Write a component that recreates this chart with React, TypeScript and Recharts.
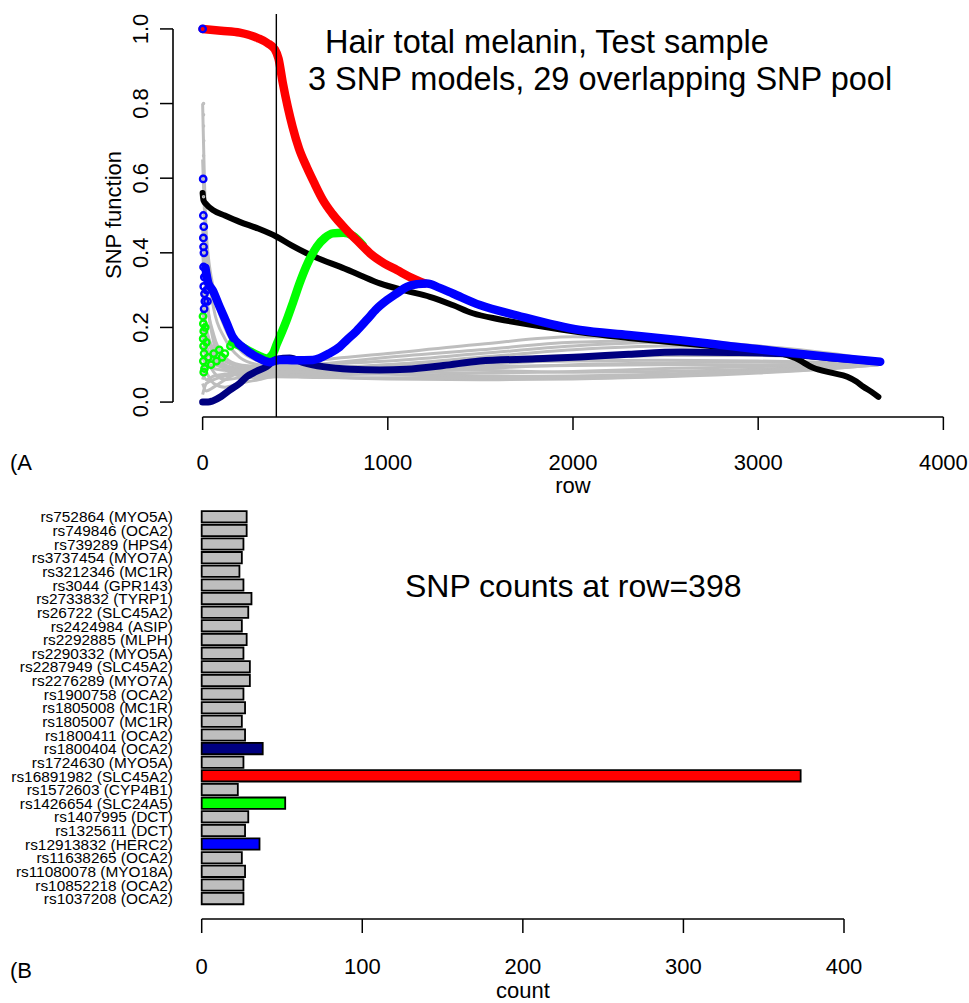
import React from "react";
import {
  ComposedChart,
  Line,
  Scatter,
  XAxis,
  YAxis,
  ReferenceLine,
  BarChart,
  Bar,
  Cell,
} from "recharts";

const FONT = "'Liberation Sans', Arial, Helvetica, sans-serif";

// ---- panel A: SNP function along the row index ----
const xTicks = [0, 1000, 2000, 3000, 4000];
const yTicks = [0, 0.2, 0.4, 0.6, 0.8, 1.0];
const cutRow = 398;

// rs16891982 (SLC45A2), red
const redRows = [0, 100, 200, 300, 350, 390, 410, 433, 460, 486, 520, 562, 600, 649, 700, 778, 850, 903, 980, 1049, 1120, 1200];
const redVals = [1.0, 0.995, 0.99, 0.975, 0.962, 0.945, 0.92, 0.855, 0.79, 0.737, 0.68, 0.63, 0.59, 0.542, 0.505, 0.461, 0.425, 0.399, 0.372, 0.354, 0.335, 0.318];

// rs1426654 (SLC24A5), green
const greenRows = [160, 216, 260, 300, 346, 380, 400, 430, 454, 490, 524, 570, 616, 660, 703, 760, 810, 865];
const greenVals = [0.16, 0.147, 0.135, 0.125, 0.117, 0.13, 0.155, 0.19, 0.22, 0.27, 0.319, 0.375, 0.416, 0.44, 0.452, 0.454, 0.446, 0.42];
const greenEarlyRows = [2, 4, 6, 3, 5, 8, 4, 10, 6, 14, 20, 30, 45, 60, 75, 90, 105, 120, 150];
const greenEarlyVals = [0.23, 0.21, 0.19, 0.17, 0.15, 0.13, 0.11, 0.09, 0.08, 0.2, 0.16, 0.12, 0.1, 0.13, 0.11, 0.14, 0.12, 0.13, 0.15];

// rs12913832 (HERC2), blue
const blueRows = [15, 30, 54, 92, 130, 162, 216, 292, 362, 416, 500, 595, 686, 740, 778, 830, 886, 940, 995, 1050, 1103, 1160, 1211, 1280, 1351, 1497, 1700, 2038, 2300, 2578, 2850, 3119, 3400, 3659];
const blueVals = [0.36, 0.32, 0.3, 0.255, 0.212, 0.175, 0.147, 0.121, 0.107, 0.113, 0.112, 0.113, 0.131, 0.148, 0.166, 0.19, 0.22, 0.25, 0.273, 0.292, 0.309, 0.316, 0.318, 0.306, 0.291, 0.26, 0.232, 0.193, 0.18, 0.166, 0.15, 0.135, 0.12, 0.108];
const blueEarlyRows = [0, 3, 4, 6, 4, 5, 7, 5, 9, 6, 10, 12, 8, 18, 22, 26];
const blueEarlyVals = [1.0, 0.598, 0.5, 0.47, 0.44, 0.416, 0.4, 0.362, 0.335, 0.31, 0.29, 0.27, 0.25, 0.34, 0.3, 0.27];

// model fit, black
const blackRows = [0, 5, 20, 54, 120, 200, 300, 400, 480, 562, 650, 741, 850, 957, 1100, 1227, 1350, 1459, 1600, 1800, 2038, 2300, 2578, 2850, 3119, 3200, 3297, 3400, 3481, 3530, 3568, 3610, 3649];
const blackVals = [0.56, 0.54, 0.53, 0.515, 0.5, 0.483, 0.465, 0.443, 0.42, 0.399, 0.38, 0.363, 0.34, 0.318, 0.298, 0.282, 0.26, 0.238, 0.222, 0.205, 0.187, 0.172, 0.158, 0.145, 0.131, 0.118, 0.092, 0.078, 0.068, 0.055, 0.041, 0.028, 0.014];

// rs1800404 (OCA2), navy
const navyRows = [0, 30, 54, 100, 146, 200, 238, 290, 346, 400, 470, 550, 650, 800, 957, 1100, 1300, 1497, 1800, 2038, 2300, 2578, 2850, 3119, 3400, 3659];
const navyVals = [0.0, 0.0, 0.003, 0.015, 0.032, 0.05, 0.068, 0.082, 0.095, 0.115, 0.118, 0.105, 0.095, 0.088, 0.086, 0.088, 0.098, 0.11, 0.116, 0.121, 0.128, 0.134, 0.133, 0.13, 0.118, 0.108];

// remaining SNPs, gray
const grayRows = [0, 20, 60, 120, 200, 300, 400, 600, 1000, 1500, 2000, 2500, 3000, 3400, 3650];
const grayVals = [
  [0.8, 0.45, 0.3, 0.2, 0.14, 0.11, 0.1, 0.095, 0.09, 0.085, 0.08, 0.082, 0.088, 0.095, 0.1],
  [0.65, 0.4, 0.25, 0.17, 0.12, 0.1, 0.095, 0.1, 0.11, 0.13, 0.15, 0.16, 0.15, 0.13, 0.11],
  [0.02, 0.05, 0.06, 0.07, 0.075, 0.08, 0.085, 0.09, 0.1, 0.12, 0.14, 0.15, 0.145, 0.125, 0.108],
  [0.1, 0.08, 0.05, 0.04, 0.05, 0.06, 0.07, 0.072, 0.075, 0.07, 0.068, 0.072, 0.08, 0.09, 0.1],
  [0.2, 0.15, 0.12, 0.1, 0.09, 0.085, 0.08, 0.078, 0.08, 0.09, 0.1, 0.105, 0.108, 0.105, 0.104],
  [0.15, 0.12, 0.08, 0.06, 0.065, 0.07, 0.075, 0.08, 0.088, 0.1, 0.115, 0.125, 0.125, 0.115, 0.105],
  [0.05, 0.03, 0.04, 0.06, 0.08, 0.09, 0.095, 0.11, 0.13, 0.155, 0.175, 0.17, 0.15, 0.125, 0.108],
  [0.3, 0.2, 0.14, 0.11, 0.095, 0.088, 0.085, 0.07, 0.062, 0.06, 0.062, 0.068, 0.078, 0.09, 0.1],
  [0.12, 0.1, 0.09, 0.085, 0.08, 0.075, 0.072, 0.075, 0.082, 0.078, 0.082, 0.09, 0.095, 0.1, 0.102],
  [0.25, 0.18, 0.13, 0.1, 0.085, 0.078, 0.075, 0.085, 0.1, 0.115, 0.125, 0.13, 0.128, 0.118, 0.106],
  [0.08, 0.06, 0.07, 0.075, 0.078, 0.08, 0.082, 0.09, 0.095, 0.105, 0.11, 0.112, 0.11, 0.106, 0.104],
  [0.4, 0.28, 0.18, 0.12, 0.1, 0.095, 0.09, 0.088, 0.075, 0.068, 0.07, 0.075, 0.085, 0.095, 0.102],
  [0.18, 0.14, 0.11, 0.095, 0.085, 0.08, 0.08, 0.082, 0.09, 0.095, 0.098, 0.1, 0.1, 0.102, 0.103],
  [0.47, 0.3, 0.16, 0.09, 0.07, 0.065, 0.068, 0.066, 0.065, 0.066, 0.064, 0.07, 0.082, 0.094, 0.101],
  [0.06, 0.09, 0.1, 0.09, 0.082, 0.088, 0.09, 0.1, 0.12, 0.14, 0.16, 0.165, 0.14, 0.118, 0.106],
];
const grayEarlyRows = [5, 5, 5, 6, 5, 6, 5, 7];
const grayEarlyVals = [0.8, 0.77, 0.74, 0.7, 0.66, 0.6, 0.55, 0.5];

// ---- panel B: SNP counts at the cut row ----
const snpLabels = [
  "rs752864 (MYO5A)", "rs749846 (OCA2)", "rs739289 (HPS4)", "rs3737454 (MYO7A)",
  "rs3212346 (MC1R)", "rs3044 (GPR143)", "rs2733832 (TYRP1)", "rs26722 (SLC45A2)",
  "rs2424984 (ASIP)", "rs2292885 (MLPH)", "rs2290332 (MYO5A)", "rs2287949 (SLC45A2)",
  "rs2276289 (MYO7A)", "rs1900758 (OCA2)", "rs1805008 (MC1R)", "rs1805007 (MC1R)",
  "rs1800411 (OCA2)", "rs1800404 (OCA2)", "rs1724630 (MYO5A)", "rs16891982 (SLC45A2)",
  "rs1572603 (CYP4B1)", "rs1426654 (SLC24A5)", "rs1407995 (DCT)", "rs1325611 (DCT)",
  "rs12913832 (HERC2)", "rs11638265 (OCA2)", "rs11080078 (MYO18A)", "rs10852218 (OCA2)",
  "rs1037208 (OCA2)",
];
const snpCounts = [28, 28, 26, 25, 23.5, 26, 31, 29, 25, 28, 26, 30, 30, 26, 27, 25, 27, 38, 26, 373, 22.5, 52, 29, 27, 36, 25, 27, 26, 26];
const snpColors = snpLabels.map((l) =>
  l.startsWith("rs16891982") ? "#FF0000"
    : l.startsWith("rs1426654") ? "#00FF00"
    : l.startsWith("rs12913832") ? "#0000FF"
    : l.startsWith("rs1800404") ? "#000080"
    : "#BEBEBE"
);
const countTicks = [0, 100, 200, 300, 400];

const pts = (rows: number[], vals: number[]) => rows.map((row, i) => ({ row, v: vals[i] }));
const barData = snpLabels.map((name, i) => ({ name, count: snpCounts[i] }));

const XTick = (props: any) => {
  const { x, y, payload } = props;
  return (
    <text x={x} y={y + 37.5} textAnchor="middle" fontSize={22} fontFamily={FONT} fill="#000">
      {payload.value}
    </text>
  );
};

const YTick = (props: any) => {
  const { x, y, payload } = props;
  const bx = x - 10;
  return (
    <text x={bx} y={y} textAnchor="middle" fontSize={22} fontFamily={FONT} fill="#000" transform={`rotate(-90, ${bx}, ${y})`}>
      {Number(payload.value).toFixed(1)}
    </text>
  );
};

const CountTick = (props: any) => {
  const { x, y, payload } = props;
  return (
    <text x={x} y={y + 39} textAnchor="middle" fontSize={22} fontFamily={FONT} fill="#000">
      {payload.value}
    </text>
  );
};

const SnpTick = (props: any) => {
  const { x, y, payload } = props;
  return (
    <text x={x - 28.7} y={y + 5.5} textAnchor="end" fontSize={15.4} fontFamily={FONT} fill="#000">
      {payload.value}
    </text>
  );
};

const ring = (color: string, r: number, w: number) => (p: any) =>
  <circle cx={p.cx} cy={p.cy} r={r} fill="none" stroke={color} strokeWidth={w} />;

function PanelA() {
  return (
    <ComposedChart width={973} height={500} margin={{ top: 14, right: 0, bottom: 0, left: 0 }}>
      <XAxis
        type="number"
        dataKey="row"
        domain={[-160, 4160]}
        ticks={xTicks}
        interval={0}
        allowDataOverflow
        axisLine={false}
        tickSize={13}
        stroke="#000"
        tickLine={{ stroke: "#000", strokeWidth: 1.5 }}
        tick={<XTick />}
        height={83}
      />
      <YAxis
        type="number"
        dataKey="v"
        domain={[-0.04, 1.04]}
        ticks={yTicks}
        interval={0}
        allowDataOverflow
        axisLine={false}
        tickSize={13}
        stroke="#000"
        tickLine={{ stroke: "#000", strokeWidth: 1.5 }}
        tick={<YTick />}
        width={173}
      />
      <ReferenceLine segment={[{ x: 0, y: -0.04 }, { x: 4000, y: -0.04 }]} stroke="#000" strokeWidth={1.6} ifOverflow="visible" />
      <ReferenceLine segment={[{ x: -160, y: 0 }, { x: -160, y: 1 }]} stroke="#000" strokeWidth={1.6} ifOverflow="visible" />
      {grayVals.map((vals, i) => (
        <Line
          key={`g${i}`}
          data={pts(grayRows, vals)}
          dataKey="v"
          type="monotone"
          stroke="#BEBEBE"
          strokeWidth={3}
          dot={false}
          isAnimationActive={false}
        />
      ))}
      <Scatter data={pts(grayEarlyRows, grayEarlyVals)} dataKey="v" shape={ring("#BEBEBE", 1, 1.5)} isAnimationActive={false} />
      <Line data={pts(blackRows, blackVals)} dataKey="v" type="monotone" stroke="#000" strokeWidth={6} strokeLinecap="round" dot={false} isAnimationActive={false} />
      <Scatter data={pts(greenEarlyRows, greenEarlyVals)} dataKey="v" shape={ring("#00FF00", 3.2, 2.4)} isAnimationActive={false} />
      <Line data={pts(greenRows, greenVals)} dataKey="v" type="monotone" stroke="#00FF00" strokeWidth={8.5} strokeLinecap="round" dot={false} isAnimationActive={false} />
      <Line data={pts(redRows, redVals)} dataKey="v" type="monotone" stroke="#FF0000" strokeWidth={8.5} strokeLinecap="round" dot={false} isAnimationActive={false} />
      <Line data={pts(navyRows, navyVals)} dataKey="v" type="monotone" stroke="#000080" strokeWidth={7} strokeLinecap="round" dot={false} isAnimationActive={false} />
      <Line data={pts(blueRows, blueVals)} dataKey="v" type="monotone" stroke="#0000FF" strokeWidth={8.5} strokeLinecap="round" dot={false} isAnimationActive={false} />
      <Scatter data={pts(blueEarlyRows, blueEarlyVals)} dataKey="v" shape={ring("#0000FF", 3.2, 2.4)} isAnimationActive={false} />
      <ReferenceLine x={cutRow} stroke="#000" strokeWidth={1.4} />
    </ComposedChart>
  );
}

function PanelB() {
  return (
    <BarChart
      width={969}
      height={523}
      data={barData}
      layout="vertical"
      margin={{ top: 16.7, right: 125, bottom: 0, left: 0 }}
    >
      <XAxis
        type="number"
        dataKey="count"
        domain={[0, 400]}
        ticks={countTicks}
        interval={0}
        stroke="#000"
        axisLine={{ stroke: "#000", strokeWidth: 1.6 }}
        tickLine={{ stroke: "#000", strokeWidth: 1.5 }}
        tickSize={14}
        tick={<CountTick />}
        height={84}
      />
      <YAxis
        type="category"
        dataKey="name"
        interval={0}
        width={201.7}
        axisLine={false}
        tickLine={false}
        tickSize={0}
        tickMargin={0}
        tick={<SnpTick />}
        padding={{ top: 13.4, bottom: 13.4 }}
      />
      <Bar dataKey="count" barSize={11.3} stroke="#000" strokeWidth={1.8} isAnimationActive={false}>
        {barData.map((d, i) => (
          <Cell key={d.name} fill={snpColors[i]} />
        ))}
      </Bar>
    </BarChart>
  );
}

export default function App() {
  return (
    <div style={{ position: "absolute", left: 0, top: 0, width: 969, height: 1003, overflow: "hidden", background: "#fff" }}>
      <div style={{ position: "absolute", left: 0, top: 0 }}>
        <PanelA />
      </div>
      <div style={{ position: "absolute", left: 0, top: 480 }}>
        <PanelB />
      </div>
      <svg width={969} height={1003} style={{ position: "absolute", left: 0, top: 0, pointerEvents: "none" }} fontFamily={FONT}>
        <text x={325} y={53} fontSize={32.5}>Hair total melanin, Test sample</text>
        <text x={308} y={90} fontSize={32.5}>3 SNP models, 29 overlapping SNP pool</text>
        <text x={121} y={215} fontSize={22} textAnchor="middle" transform="rotate(-90, 121, 215)">SNP function</text>
        <text x={573} y={493} fontSize={22} textAnchor="middle">row</text>
        <text x={10} y={470} fontSize={22}>(A</text>
        <text x={405} y={597} fontSize={32}>SNP counts at row=398</text>
        <text x={523} y={998} fontSize={22} textAnchor="middle">count</text>
        <text x={10} y={978} fontSize={22}>(B</text>
      </svg>
    </div>
  );
}
